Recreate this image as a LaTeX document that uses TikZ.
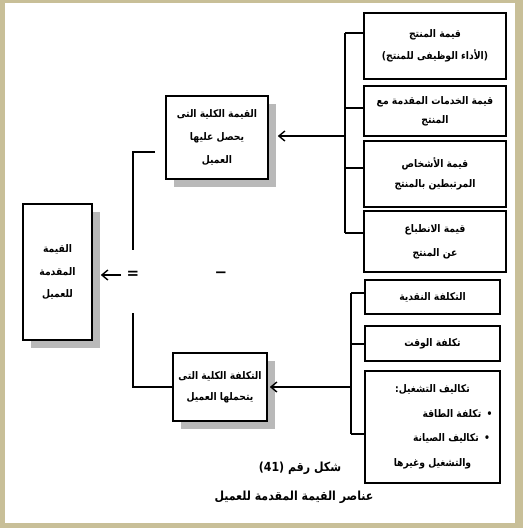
\documentclass[tikz,border=0pt]{standalone}
\usepackage{fontspec}
\newfontfamily\arabicfont[Script=Arabic,FakeStretch=0.88]{DejaVu Sans}
\newfontfamily\symfont{DejaVu Sans}
\TeXXeTstate=1
\usetikzlibrary{arrows.meta,shadows}
\newcommand\ar[1]{\beginR#1\endR}
\newcommand\fs[1]{\arabicfont\bfseries\fontsize{10.5}{#1}\selectfont}
\definecolor{khaki}{RGB}{200,191,152}
\tikzset{
  box/.style={draw, line width=1.6pt, fill=white, rectangle, inner sep=0pt,
    align=center, font=\fs{20}},
  shbox/.style={box, drop shadow={shadow xshift=8pt, shadow yshift=-8pt, fill=gray!55, opacity=1}},
  link/.style={line width=1.5pt},
  arr/.style={line width=1.4pt, -{Straight Barb[length=6pt,width=10pt,line width=1.4pt]}},
  captext/.style={font=\arabicfont\bfseries\fontsize{12.5}{14}\selectfont},
  sign/.style={inner sep=0pt, font=\symfont\bfseries\fontsize{15}{15}\selectfont}
}
\begin{document}
\begin{tikzpicture}[x=1pt,y=-1pt]
\useasboundingbox (0,0) rectangle (523,528);
\fill[khaki] (0,0) rectangle (523,528);
\fill[white] (5,3) rectangle (515,523);

% right upper boxes
\node[box, minimum width=142, minimum height=66, font=\fs{22}] (r1) at (435,46)
  {\ar{قيمة المنتج}\\\ar{(الأداء الوظيفى للمنتج)}};
\node[box, minimum width=142, minimum height=50, font=\fs{19}] (r2) at (435,111)
  {\ar{قيمة الخدمات المقدمة مع}\\\ar{المنتج}};
\node[box, minimum width=142, minimum height=66, font=\fs{20}] (r3) at (435,174)
  {\ar{قيمة الأشخاص}\\\ar{المرتبطين بالمنتج}};
\node[box, minimum width=142, minimum height=61, font=\fs{24}] (r4) at (435,241.5)
  {\ar{قيمة الانطباع}\\\ar{عن المنتج}};

% right lower boxes
\node[box, minimum width=135, minimum height=34] (r5) at (432.5,297) {\ar{التكلفة النقدية}};
\node[box, minimum width=135, minimum height=35] (r6) at (432.5,343.5) {\ar{تكلفة الوقت}};
\node[box, minimum width=135, minimum height=112, font=\fs{24.5}] (r7) at (432.5,427)
  {\ar{تكاليف التشغيل:}\\
   \hspace*{50pt}\ar{•\enspace تكلفة الطاقة}\\
   \hspace*{38pt}\ar{•\enspace تكاليف الصيانة}\\
   \ar{والتشغيل وغيرها}};

% middle boxes
\node[shbox, minimum width=102, minimum height=83, font=\fs{23}] (m1) at (217,137.5)
  {\ar{القيمة الكلية التى}\\\ar{يحصل عليها}\\\ar{العميل}};
\node[shbox, minimum width=94, minimum height=68, font=\fs{21}] (m2) at (220,387)
  {\ar{التكلفة الكلية التى}\\\ar{يتحملها العميل}};

% left box
\node[shbox, minimum width=69, minimum height=136, font=\fs{22.5}] (lb) at (57.5,272)
  {\ar{القيمة}\\\ar{المقدمة}\\\ar{للعميل}};

% upper bracket
\coordinate (ua) at (345,33);
\coordinate (ub) at (345,108);
\coordinate (uc) at (345,168);
\coordinate (ud) at (345,233);
\coordinate (uarr) at (345,136);
\draw[link] (ua) -- (ud);
\draw[link] (ua) -- (ua -| r1.west);
\draw[link] (ub) -- (ub -| r2.west);
\draw[link] (uc) -- (uc -| r3.west);
\draw[link] (ud) -- (ud -| r4.west);
\draw[arr] (uarr) -- ([xshift=9pt]m1.east |- uarr);

% lower bracket
\coordinate (la) at (351,293);
\coordinate (lbb) at (351,344);
\coordinate (lc) at (351,434);
\coordinate (larr) at (351,387);
\draw[link] (la) -- (lc);
\draw[link] (la) -- (la -| r5.west);
\draw[link] (lbb) -- (lbb -| r6.west);
\draw[link] (lc) -- (lc -| r7.west);
\draw[arr] (larr) -- ([xshift=2pt]m2.east |- larr);

% big left bracket
\coordinate (bt) at (155,152);
\coordinate (bu) at (133,250);
\coordinate (bl) at (133,313);
\draw[link] (bt) -| (bu);
\draw[link] (bl) |- (m2.west);

% equation signs and arrow to left box
\node[sign] (eq) at (133,275) {=};
\node[sign] (mn) at (221,275) {−};
\coordinate (lar) at (121,275);
\draw[arr] (lar) -- ([xshift=8pt]lb.east |- lar);

% caption
\node[captext] (c1) at (300,468) {\ar{شكل رقم \beginL(41)\endL}};
\node[captext] (c2) at (294,497) {\ar{عناصر القيمة المقدمة للعميل}};
\end{tikzpicture}
\end{document}
